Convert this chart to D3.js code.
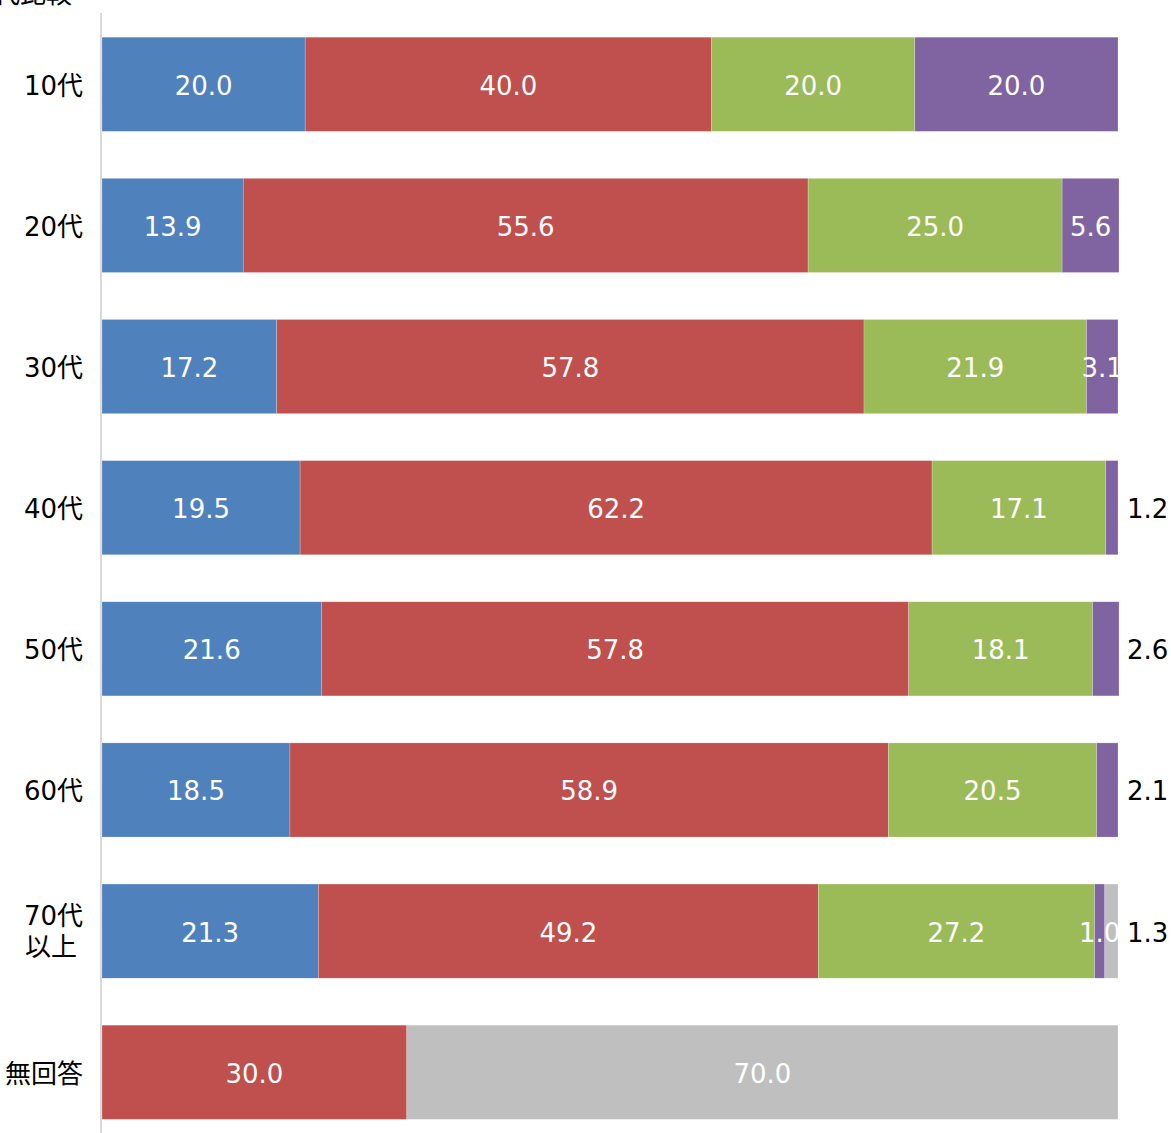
<!DOCTYPE html>
<html><head><meta charset="utf-8">
<script src="https://cdn.jsdelivr.net/npm/d3@7"></script>
<style>html,body{margin:0;padding:0;background:#fff;}svg{display:block;}</style>
</head><body>
<svg id="chart" width="1171" height="1133"></svg>
<script>
const categories = ["10代","20代","30代","40代","50代","60代","70代以上","無回答"];
const seriesNames = ["s1","s2","s3","s4","s5"];
const seriesColors = ["#4F81BD","#C0504D","#9BBB59","#8064A2","#BFBFBF"];
const s1 = [20.0, 13.9, 17.2, 19.5, 21.6, 18.5, 21.3, 0];
const s2 = [40.0, 55.6, 57.8, 62.2, 57.8, 58.9, 49.2, 30.0];
const s3 = [20.0, 25.0, 21.9, 17.1, 18.1, 20.5, 27.2, 0];
const s4 = [20.0, 5.6, 3.1, 1.2, 2.6, 2.1, 1.0, 0];
const s5 = [0, 0, 0, 0, 0, 0, 1.3, 70.0];
const titleText = "年代比較";

const seriesValues = [s1, s2, s3, s4, s5];
const svg = d3.select("#chart");
const font = "'DejaVu Sans','Noto Sans CJK JP',sans-serif";

const x = d3.scaleLinear().domain([0, 100]).range([102, 1118]);
const y = d3.scaleBand().domain(categories).range([13.7, 13.7 + 8 * 141.14]).paddingInner(0.333).paddingOuter(0.1665);

const rows = categories.map((c, i) => {
  let acc = 0;
  const segs = seriesValues.map((arr, k) => {
    const v = arr[i];
    const seg = {cat: c, k, v, x0: acc, x1: acc + v};
    acc += v;
    return seg;
  }).filter(d => d.v > 0);
  return {cat: c, segs};
});

// axis line
svg.append("line")
  .attr("x1", x(0) - 1).attr("x2", x(0) - 1)
  .attr("y1", 13).attr("y2", 1133)
  .attr("stroke", "#D9D9D9").attr("stroke-width", 2);

const g = svg.append("g");
rows.forEach(r => {
  const last = r.segs[r.segs.length - 1];
  r.segs.forEach(s => {
    g.append("rect")
      .attr("x", x(s.x0)).attr("width", x(s.x1) - x(s.x0))
      .attr("y", y(r.cat)).attr("height", y.bandwidth())
      .attr("fill", seriesColors[s.k])
      .attr("stroke", "rgba(255,255,255,0.35)").attr("stroke-width", 0.6);
  });
  r.segs.forEach(s => {
    const outside = (s === last && s.v < 3);
    g.append("text")
      .attr("x", outside ? x(100) + 9 : (x(s.x0) + x(s.x1)) / 2)
      .attr("y", y(r.cat) + y.bandwidth() / 2)
      .attr("dy", "0.4em")
      .attr("text-anchor", outside ? "start" : "middle")
      .attr("fill", outside ? "#000" : "#fff")
      .style("font-family", font).style("font-size", "26px")
      .text(s.v.toFixed(1));
  });
});

// category labels
const yAxis = d3.axisLeft(y).tickSize(0).tickPadding(0);
const ax = svg.append("g").attr("transform", `translate(${x(0) - 19},0)`).call(yAxis);
ax.select(".domain").remove();
ax.selectAll(".tick text").remove();
ax.selectAll(".tick").each(function(d) {
  const t = d3.select(this).append("text")
    .attr("text-anchor", "end").attr("fill", "#000")
    .style("font-family", font).style("font-size", "26px");
  if (d === "70代以上") {
    t.append("tspan").attr("x", 0).attr("y", -6).text("70代");
    t.append("tspan").attr("x", -6).attr("y", 25).text("以上");
  } else {
    t.attr("y", 0).attr("dy", "0.4em").text(d);
  }
});

// clipped title at top-left (cut off in the reference as well)
svg.append("text")
  .attr("x", 72).attr("y", 3)
  .attr("text-anchor", "end")
  .style("font-family", font).style("font-size", "26px")
  .attr("fill", "#000")
  .text(titleText);
</script>
</body></html>
